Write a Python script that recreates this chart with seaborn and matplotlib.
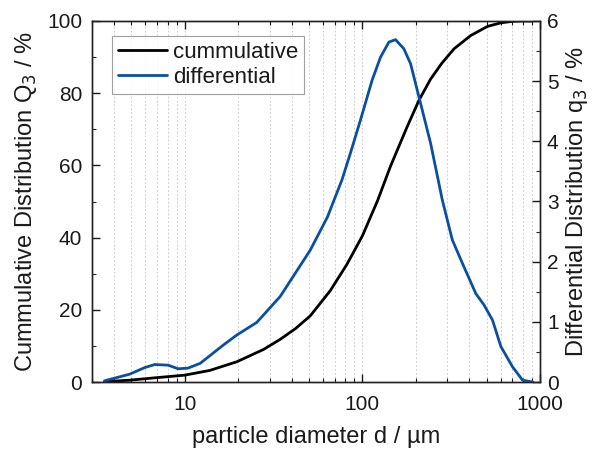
import matplotlib
matplotlib.use("Agg")
import matplotlib.pyplot as plt
import seaborn as sns
import numpy as np
import pandas as pd
from matplotlib.ticker import LogLocator, MultipleLocator, FixedLocator, FixedFormatter, NullFormatter

# ---- data ----
cum_d = [3.53, 4.89, 6.92, 10.0, 13.8, 19.6, 27.7, 34.4, 42.0, 50.8, 65.9, 81.8, 100.0,
         121.6, 144, 178.6, 208, 242, 280, 328, 408, 506, 602, 700, 780, 900]
cum_Q = [0.1, 0.5, 1.2, 1.9, 3.2, 5.6, 9.0, 11.8, 14.8, 18.3, 25.3, 32.6, 40.5,
         50.2, 59.8, 70.7, 78.0, 83.9, 88.3, 92.3, 96.0, 98.5, 99.5, 99.9, 100.0, 100.0]

diff_d = [3.53, 4.89, 5.95, 6.76, 8.05, 9.16, 10.4, 12.2, 16.4, 19.6, 25.4, 34.4,
          50.8, 63.5, 76.7, 85.5, 97.4, 113.5, 126.5, 141, 153.6, 171, 186.7, 203.6,
          242, 282, 321, 366, 435, 484, 540, 602, 701, 798, 910]
diff_q = [0.02, 0.13, 0.24, 0.29, 0.28, 0.22, 0.23, 0.31, 0.61, 0.78, 0.99, 1.42,
          2.19, 2.74, 3.36, 3.80, 4.35, 5.02, 5.40, 5.65, 5.69, 5.54, 5.29, 4.85,
          3.97, 3.02, 2.36, 1.97, 1.47, 1.28, 1.03, 0.59, 0.25, 0.03, 0.0]

x_ticks = [10, 100, 1000]
x_tick_labels = ["10", "100", "1000"]
left_ticks = [0, 20, 40, 60, 80, 100]
right_ticks = [0, 1, 2, 3, 4, 5, 6]

series_names = ["cummulative", "differential"]

# ---- style ----
sns.set_style("ticks")
plt.rcParams['font.family'] = ['Liberation Sans', 'DejaVu Sans']
plt.rcParams['xtick.direction'] = 'in'
plt.rcParams['ytick.direction'] = 'in'

BLUE = "#0b4fa0"
TXT = "#1a1a1a"
fs_tick = 15
fs_label = 17
fs_leg = 16

fig = plt.figure(figsize=(5.92, 4.54), dpi=100)
ax = fig.add_axes([92/592, 72/454, 448/592, 361/454])
ax2 = ax.twinx()

df_c = pd.DataFrame({"d": cum_d, "Q": cum_Q})
df_d = pd.DataFrame({"d": diff_d, "q": diff_q})

sns.lineplot(data=df_c, x="d", y="Q", ax=ax, color="black", lw=2.0, label=series_names[0], legend=False)
sns.lineplot(data=df_d, x="d", y="q", ax=ax2, color=BLUE, lw=2.0, label=series_names[1], legend=False)

ax.set_xscale("log")
ax.set_xlim(3, 1000)
ax.set_ylim(0, 100)
ax2.set_ylim(0, 6)

# grid: vertical dotted lines at every major/minor decade position
grid_x = [v * 10**e for e in range(0, 3) for v in range(1, 10) if 3 <= v * 10**e < 1000]
for gx in grid_x:
    ax.axvline(gx, color="#cfcfcf", lw=0.7, ls=(0, (2, 2)), zorder=0)

ax.xaxis.set_major_locator(FixedLocator(x_ticks))
ax.xaxis.set_major_formatter(FixedFormatter(x_tick_labels))
ax.xaxis.set_minor_locator(LogLocator(base=10, subs=np.arange(2, 10)))
ax.xaxis.set_minor_formatter(NullFormatter())

ax.yaxis.set_major_locator(FixedLocator(left_ticks))
ax.yaxis.set_minor_locator(MultipleLocator(10))
ax2.yaxis.set_major_locator(FixedLocator(right_ticks))
ax2.yaxis.set_minor_locator(MultipleLocator(0.5))

for a in (ax, ax2):
    for s in a.spines.values():
        s.set_visible(True)
        s.set_color("#222222")
        s.set_linewidth(1.0)

ax.tick_params(axis="x", which="both", top=True, bottom=True, direction="in", labelsize=fs_tick, colors=TXT)
ax.tick_params(axis="x", which="major", length=6, width=1.0, pad=9)
ax.tick_params(axis="x", which="minor", length=3, width=0.8)
ax.tick_params(axis="y", which="major", length=6, width=1.0, labelsize=fs_tick, colors=TXT, pad=7)
ax.tick_params(axis="y", which="minor", length=3, width=0.8)
ax2.tick_params(axis="y", which="major", length=6, width=1.0, labelsize=fs_tick, colors=TXT, pad=5, direction="in")
ax2.tick_params(axis="y", which="minor", length=3, width=0.8, direction="in")

ax.set_xlabel("particle diameter d / µm", fontsize=fs_label, color=TXT, labelpad=9)
ax.set_ylabel("Cummulative Distribution Q$_3$ / %", fontsize=fs_label, color=TXT, labelpad=6)
ax2.set_ylabel("Differential Distribution q$_3$ / %", fontsize=fs_label, color=TXT, labelpad=4)

h1, l1 = ax.get_legend_handles_labels()
h2, l2 = ax2.get_legend_handles_labels()
leg = ax2.legend(h1 + h2, l1 + l2, loc="upper left", bbox_to_anchor=(0.045, 0.958),
                 borderaxespad=0, fontsize=fs_leg, frameon=True, fancybox=False,
                 edgecolor="#888888", handlelength=2.2, handletextpad=0.3,
                 borderpad=0.25, labelspacing=0.2)
leg.get_frame().set_linewidth(0.8)
for t in leg.get_texts():
    t.set_color(TXT)

fig.savefig("out.png", dpi=100)
